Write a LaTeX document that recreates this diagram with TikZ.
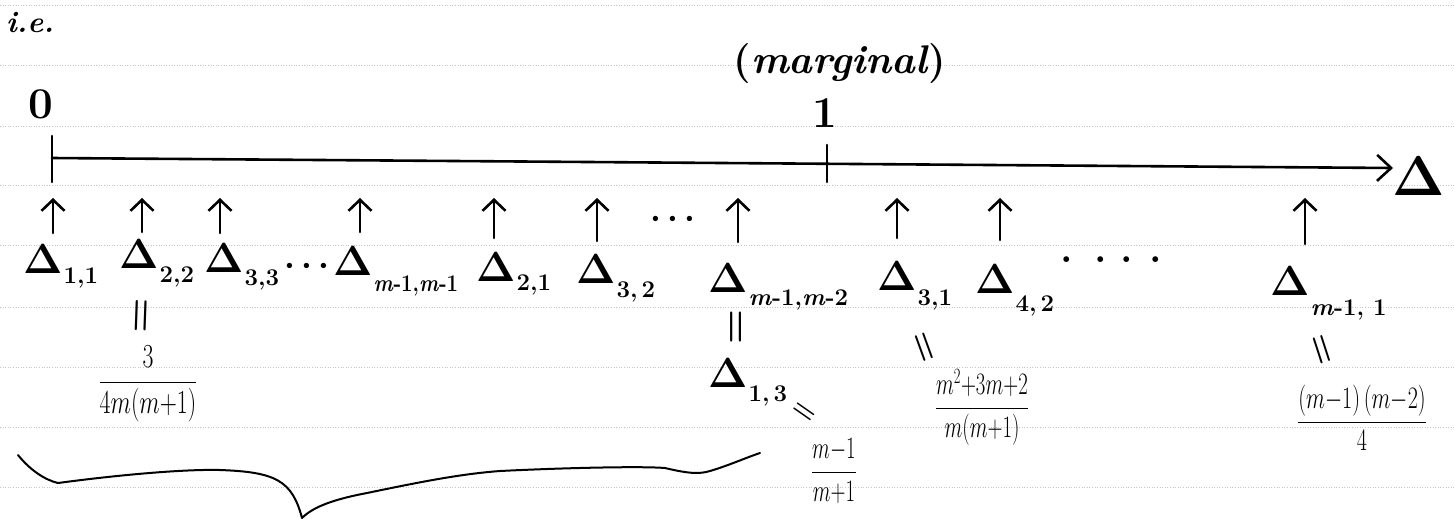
\RequirePackage{fix-cm}
\documentclass[tikz,border=0pt]{standalone}
\usepackage{graphicx}
\usetikzlibrary{arrows.meta}
\newcommand{\Dsub}[2]{$\Delta$\kern1pt\raisebox{-#1pt}{\fontsize{24}{24}\selectfont #2}}
\newcommand{\mm}{\textit{m}}
\newcommand{\hw}[2]{\scalebox{#1}[1.2]{#2}}
\begin{document}
\begin{tikzpicture}[x=1pt,y=-1pt,
  ink/.style={line width=2.6pt, line cap=round, line join=round},
  rulel/.style={gray!45, line width=0.7pt, dash pattern=on 1pt off 1.6pt},
  upar/.style={ink, -{Straight Barb[length=11pt,width=23pt]}},
  axisar/.style={ink, -{Straight Barb[length=14pt,width=26pt]}},
  lab/.style={inner sep=0pt, anchor=base west, font=\fontsize{42}{44}\selectfont\bfseries\boldmath},
  big/.style={inner sep=0pt, font=\fontsize{44}{46}\selectfont\bfseries\boldmath},
  eqs/.style={inner sep=0pt, font=\fontsize{40}{40}\selectfont\boldmath},
  fr/.style={inner sep=0pt, font=\fontsize{26}{28}\selectfont},
  dots/.style={inner sep=0pt, font=\fontsize{34}{34}\selectfont\boldmath},
  brace/.style={line width=2pt, line cap=round, line join=round}
]
\fill[white] (0,0) rectangle (1454,523);
\useasboundingbox (0,0) rectangle (1454,523);
% notebook rules
\foreach \yy in {5,65,126,185,245,307,367,427,487}
  \draw[rulel] (0,\yy) -- (1454,\yy);

% headings
\node[inner sep=0pt, font=\fontsize{30}{30}\selectfont\bfseries] (ie) at (30,23) {\textit{i.e.}};
\node[inner sep=0pt, font=\fontsize{40}{42}\selectfont\bfseries] (marg) at (840,64) {(\textit{marginal})};
\node[big] (zero) at (41,104) {0};
\node[big] (one) at (825,113) {1};

% axis
\coordinate (o) at (52,158);
\coordinate (axend) at (1393,168);
\coordinate (t0a) at (52,136);
\coordinate (t0b) at (52,182);
\coordinate (t1a) at (827,145);
\coordinate (t1b) at (827,182);
\draw[axisar] (o) -- (axend);
\draw[ink] (t0a) -- (t0b);
\draw[ink] (t1a) -- (t1b);
\node[inner sep=0pt, font=\fontsize{56}{58}\selectfont\boldmath] (delta) at (1419,176) {$\Delta$};

% up arrows
\foreach \i/\xx/\yb in {1/53/233, 2/142/232, 3/220/233, 4/360/232, 5/494/238,
                        6/597/241, 7/738/242, 8/897/238, 9/1000/240, 10/1305/244} {
  \coordinate (as\i) at (\xx,\yb);
  \coordinate (ae\i) at (\xx,198);
  \draw[upar] (as\i) -- (ae\i);
}
\node[dots] (dtop) at (673,219) {$\cdots$};

% Delta labels
\node[lab] (l11) at (23,273) {\Dsub{10}{1,1}};
\node[lab] (l22) at (119,268) {\Dsub{14}{2,2}};
\node[lab] (l33) at (204,272) {\Dsub{13}{3,3}};
\node[dots] (dl) at (307,266) {$\cdots$};
\node[lab] (lmm) at (333,275) {\Dsub{16}{\scalebox{0.85}[1]{\mm-1,\mm-1}}};
\node[lab] (l21) at (476,281) {\Dsub{9}{2,1}};
\node[lab] (l32) at (576,283) {\Dsub{14}{3,\,2}};
\node[lab] (lmm2) at (708,292) {\Dsub{13}{\mm-1,\mm-2}};
\node[lab] (l31) at (877,290) {\Dsub{15}{3,1}};
\node[lab] (l42) at (975,293) {\Dsub{18}{4,\,2}};
\node[inner sep=0pt, anchor=base west, font=\fontsize{40}{40}\selectfont\bfseries] (dr) at (1060,262)
  {.\hspace{22pt}.\hspace{13pt}.\hspace{17pt}.};
\node[lab] (lm1) at (1270,295) {\Dsub{20}{\mm-1,\ 1}};
\node[lab] (l13) at (708,387) {\Dsub{14}{1,\,3}};

% equal signs
\node[eqs, rotate=88] (e22) at (143,316) {$=$};
\node[eqs, rotate=90] (emm2) at (738,327) {$=$};
\node[eqs, rotate=-35, font=\fontsize{28}{28}\selectfont\boldmath] (e13) at (803,413) {$=$};
\node[eqs, rotate=-70, font=\fontsize{36}{36}\selectfont\boldmath] (e31) at (922,348) {$=$};
\node[eqs, rotate=-72, font=\fontsize{36}{36}\selectfont\boldmath] (em1) at (1320,350) {$=$};

% fractions
\node[fr, font=\fontsize{28}{30}\selectfont] (f22) at (148,384) {\hw{0.85}{$\displaystyle\frac{3}{4m(m{+}1)}$}};
\node[fr] (f13) at (834,471) {\hw{0.8}{$\displaystyle\frac{m{-}1}{m{+}1}$}};
\node[fr] (f31) at (982,407) {\hw{0.8}{$\displaystyle\frac{m^2{+}3m{+}2}{m(m{+}1)}$}};
\node[fr] (fm1) at (1362,418) {\hw{0.85}{$\displaystyle\frac{(m{-}1)\,(m{-}2)}{4}$}};

% brace
\draw[brace] (18,455) .. controls (30,470) and (45,480) .. (58,483)
  .. controls (110,476) and (180,469) .. (220,470)
  .. controls (275,472) and (292,480) .. (302,518)
  .. controls (312,508) and (330,500) .. (367,493)
  .. controls (420,482) and (460,474) .. (500,471)
  .. controls (560,468) and (640,466) .. (665,468)
  .. controls (690,474) and (700,474) .. (710,471)
  .. controls (730,465) and (745,458) .. (760,453);
\end{tikzpicture}
\end{document}
